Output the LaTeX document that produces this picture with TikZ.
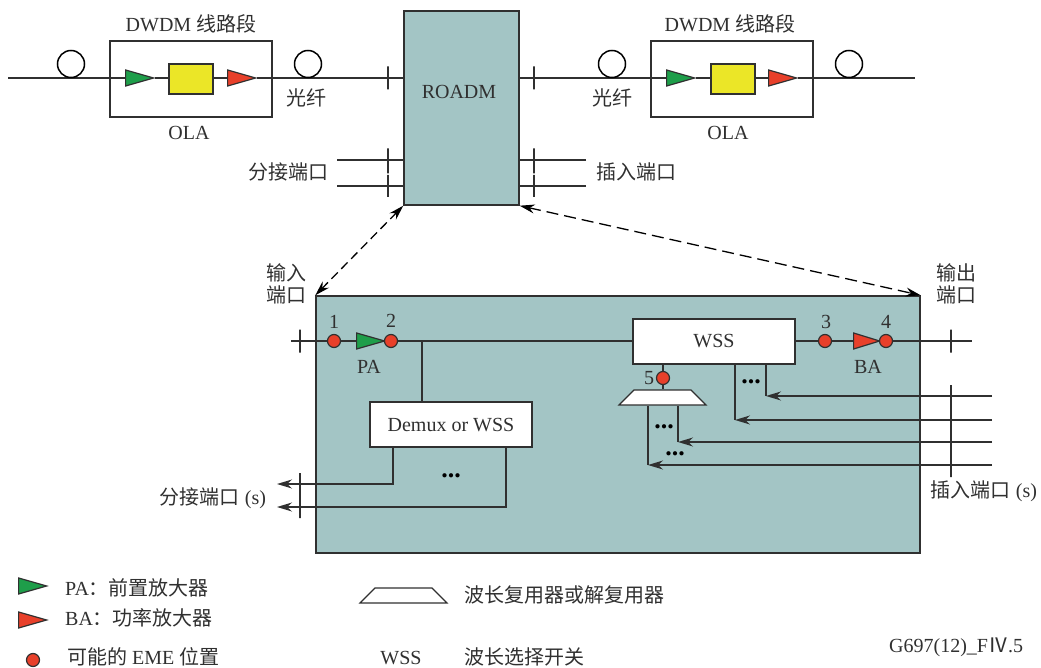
\documentclass[tikz,border=0pt]{standalone}
\usepackage{fontspec}
\setmainfont{Liberation Serif}
\newfontfamily\cjk{Noto Sans CJK SC}
\usetikzlibrary{arrows.meta,shapes.geometric}
\definecolor{teal1}{HTML}{A3C5C5}
\definecolor{green1}{HTML}{1E9E4A}
\definecolor{red1}{HTML}{E8402A}
\definecolor{yellow1}{HTML}{EBE627}
\definecolor{ink}{HTML}{303030}
\tikzset{
    lbl/.style={font=\fontsize{20}{23}\selectfont,text=ink,inner sep=0pt,align=center},
    dotsnode/.style={font=\fontsize{26}{26}\bfseries\selectfont,text=black,inner sep=0pt},
    boxnode/.style={draw=ink,line width=1.4pt,inner sep=0pt,minimum width=#1},
    fiberring/.style={circle,draw=black,line width=1.5pt,fill=white,minimum size=27pt,inner sep=0pt},
    amp/.style={isosceles triangle,isosceles triangle stretches,draw=ink,line width=1.2pt,fill=#1,
        minimum width=16pt,minimum height=28pt,inner sep=0pt,anchor=west},
    eme/.style={circle,draw=ink,line width=1.2pt,fill=red1,minimum size=13pt,inner sep=0pt},
    muxnode/.style={trapezium,trapezium stretches body,trapezium left angle=45,trapezium right angle=45,
        draw=ink,line width=1.2pt,fill=white,minimum width=87pt,inner sep=0pt},
    tickmark/.style={draw=ink,line width=1.2pt,inner sep=0pt,minimum width=0pt,minimum height=#1},
    wire/.style={draw=ink,line width=1.3pt}
}
\begin{document}
\begin{tikzpicture}[x=1pt,y=-1pt,>={Stealth[length=15pt,width=9pt]}]
    \useasboundingbox (0,0) rectangle (1041,668);

    % ROADM and the enlarged view
    \node[boxnode=115pt,fill=teal1,minimum height=194pt] (roadm) at (461.5,108) {};
    \node[lbl] (roadmtxt) at (459,92) {ROADM};
    \node[boxnode=604pt,fill=teal1,minimum height=257pt] (big) at (618,424.5) {};
    \draw[<->,dashed,dash pattern=on 9pt off 5pt,line width=1.3pt,black] (roadm.south west) -- (big.north west);
    \draw[<->,dashed,dash pattern=on 12pt off 6pt,line width=1.3pt,black] (roadm.south east) -- (big.north east);

    % Left line section
    \coordinate (lineL) at (8,78);
    \node[boxnode=162pt,minimum height=76pt] (olaA) at (191,79) {};
    \node[amp=green1] (paA) at (125,78) {};
    \node[boxnode=44pt,line width=1.2pt,fill=yellow1,minimum height=30pt] (amuxA) at (191,79) {};
    \node[amp=red1] (baA) at (227,78) {};
    \draw[wire] (lineL) -- (paA.west);
    \draw[wire] (paA.apex) -- (amuxA.west |- paA.apex);
    \draw[wire] (amuxA.east |- baA.west) -- (baA.west);
    \draw[wire] (baA.apex) -- (roadm.west |- baA.apex);
    \node[fiberring] (ringA) at (71,64) {};
    \node[fiberring] (ringB) at (308,64) {};
    \node[tickmark=23pt] (tickA) at (388,78) {};
    \node[lbl] (lblA) at (191,24) {DWDM {\cjk 线路段}};
    \node[lbl] (olatxtA) at (189,133) {OLA};
    \node[lbl] (fibA) at (306,98) {\cjk 光纤};

    % Right line section
    \coordinate (lineR) at (915,78);
    \node[boxnode=162pt,minimum height=76pt] (olaB) at (732,79) {};
    \node[amp=green1] (paB) at (666,78) {};
    \node[boxnode=44pt,line width=1.2pt,fill=yellow1,minimum height=30pt] (amuxB) at (733,79) {};
    \node[amp=red1] (baB) at (768,78) {};
    \draw[wire] (roadm.east |- paB.west) -- (paB.west);
    \draw[wire] (paB.apex) -- (amuxB.west |- paB.apex);
    \draw[wire] (amuxB.east |- baB.west) -- (baB.west);
    \draw[wire] (baB.apex) -- (lineR);
    \node[fiberring] (ringC) at (612,64) {};
    \node[fiberring] (ringD) at (849,64) {};
    \node[tickmark=23pt] (tickB) at (534,78) {};
    \node[lbl] (lblB) at (730,24) {DWDM {\cjk 线路段}};
    \node[lbl] (olatxtB) at (728,133) {OLA};
    \node[lbl] (fibB) at (612,98) {\cjk 光纤};

    % Drop and add ports of the ROADM
    \coordinate (dropU) at (337,160);
    \coordinate (dropV) at (337,186);
    \coordinate (addU) at (586,160);
    \coordinate (addV) at (586,186);
    \draw[wire] (dropU) -- (roadm.west |- dropU);
    \draw[wire] (dropV) -- (roadm.west |- dropV);
    \draw[wire] (addU) -- (roadm.east |- addU);
    \draw[wire] (addV) -- (roadm.east |- addV);
    \node[tickmark=25pt] (tickC) at (388,161) {};
    \node[tickmark=22pt] (tickD) at (388,186) {};
    \node[tickmark=25pt] (tickE) at (534,161) {};
    \node[tickmark=22pt] (tickF) at (534,186) {};
    \node[lbl] (droptxt) at (288,172) {\cjk 分接端口};
    \node[lbl] (addtxt) at (636,172) {\cjk 插入端口};

    % Through path
    \coordinate (inL) at (291,341);
    \coordinate (outR) at (972,341);
    \node[eme] (emeA) at (334,341) {};
    \node[amp=green1] (paC) at (356,341) {};
    \node[boxnode=162pt,fill=white,minimum height=45pt] (wss) at (714,341.5) {};
    \node[eme] (emeC) at (825,341) {};
    \node[amp=red1,minimum height=26pt] (baC) at (853,341) {};
    \node[eme] (emeB) at (391,341) {};
    \node[eme] (emeD) at (886,341) {};
    \draw[wire] (inL) -- (emeA);
    \draw[wire] (emeA) -- (paC.west);
    \draw[wire] (emeB) -- (wss.west |- emeB);
    \draw[wire] (wss.east |- emeC) -- (emeC);
    \draw[wire] (emeC) -- (baC.west);
    \draw[wire] (emeD) -- (outR);
    \node[tickmark=23pt] (tickG) at (300,341) {};
    \node[tickmark=23pt] (tickH) at (951,341) {};
    \node[lbl] at (334,322) {1};
    \node[lbl] at (391,321) {2};
    \node[lbl] at (826,322) {3};
    \node[lbl] at (886,322) {4};
    \node[lbl] at (649,378) {5};
    \node[lbl] at (369,367) {PA};
    \node[lbl] at (868,367) {BA};
    \node[lbl] at (714,341) {WSS};
    \node[lbl] at (286,284) {\cjk 输入\\[-1pt]\cjk 端口};
    \node[lbl] at (956,284) {\cjk 输出\\[-1pt]\cjk 端口};

    % Demux branch
    \coordinate (branch) at (422,341);
    \node[boxnode=162pt,fill=white,minimum height=45pt] (demux) at (451,424.5) {};
    \node[lbl] at (451,425) {Demux or WSS};
    \draw[wire] (branch) -- (branch |- demux.north);
    \coordinate (bendA) at (393,484);
    \coordinate (bendB) at (506,507);
    \coordinate (outA) at (277,484);
    \coordinate (outB) at (277,507);
    \draw[wire,->] (bendA |- demux.south) -- (bendA) -- (outA);
    \draw[wire,->] (bendB |- demux.south) -- (bendB) -- (outB);
    \node[tickmark=45pt] (tickI) at (300,495.5) {};
    \node[dotsnode] at (451,476) {.{}.{}.};
    \node[lbl] at (213,498) {{\cjk 分接端口} (s)};

    % Add branch
    \node[eme] (emeE) at (663,378) {};
    \node[muxnode] (mux) at (662.5,397.5) {\rule{0pt}{15pt}};
    \draw[wire] (emeE |- wss.south) -- (emeE);
    \draw[wire] (emeE) -- (emeE |- mux.north);
    \coordinate (inA) at (992,396);
    \coordinate (inB) at (992,420);
    \coordinate (inC) at (992,442);
    \coordinate (inD) at (992,465);
    \coordinate (bendC) at (766,396);
    \coordinate (bendD) at (735,420);
    \coordinate (bendE) at (678,442);
    \coordinate (bendF) at (648,465);
    \draw[wire,->] (inA) -- (bendC);
    \draw[wire,->] (inB) -- (bendD);
    \draw[wire,->] (inC) -- (bendE);
    \draw[wire,->] (inD) -- (bendF);
    \draw[wire] (bendC) -- (bendC |- wss.south);
    \draw[wire] (bendD) -- (bendD |- wss.south);
    \draw[wire] (bendE) -- (bendE |- mux.south);
    \draw[wire] (bendF) -- (bendF |- mux.south);
    \node[tickmark=92pt] (tickJ) at (951,431) {};
    \node[dotsnode] at (751,382) {.{}.{}.};
    \node[dotsnode] at (664,427) {.{}.{}.};
    \node[dotsnode] at (675,454) {.{}.{}.};
    \node[lbl] at (984,491) {{\cjk 插入端口} (s)};

    % Legend
    \node[amp=green1] (keyPA) at (18,586) {};
    \node[amp=red1] (keyBA) at (18,620) {};
    \node[eme] (keyEME) at (33,660) {};
    \node[lbl,anchor=west] at (65,588) {PA{\cjk ：前置放大器}};
    \node[lbl,anchor=west] at (65,618) {BA{\cjk ：功率放大器}};
    \node[lbl,anchor=west] at (67,657) {{\cjk 可能的} EME {\cjk 位置}};
    \node[muxnode] (keyMUX) at (403.5,595.5) {\rule{0pt}{15pt}};
    \node[lbl,anchor=west] at (464,595) {\cjk 波长复用器或解复用器};
    \node[lbl] at (401,658) {WSS};
    \node[lbl,anchor=west] at (464,657) {\cjk 波长选择开关};
    \node[lbl,anchor=west] at (889,647) {G697(12)\_F{\cjk Ⅳ}.5};
\end{tikzpicture}
\end{document}
